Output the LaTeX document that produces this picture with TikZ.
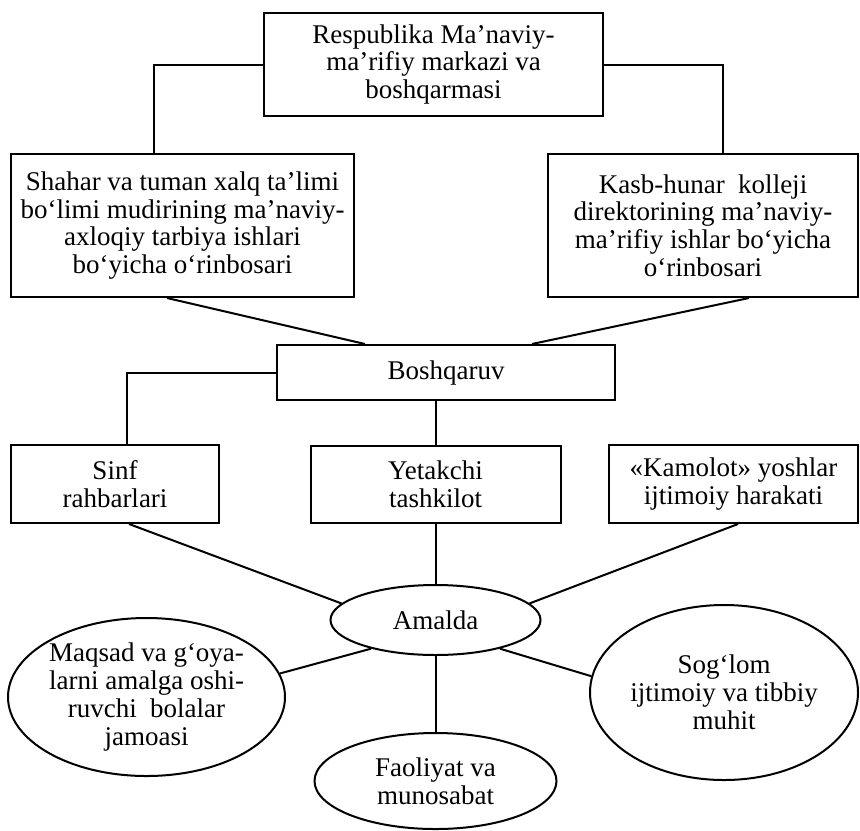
\documentclass[tikz,border=0pt]{standalone}
\usepackage{fontspec}
\setmainfont{Liberation Serif}
\usepackage{tikz}
\usetikzlibrary{shapes.geometric}

\begin{document}
\begin{tikzpicture}[x=0.5pt, y=-0.5pt,
    orgbox/.style={draw, line width=1pt, inner sep=0pt, align=center,
                   font=\fontsize{13.5}{13.9}\selectfont},
    oval/.style={orgbox, ellipse},
    link/.style={line width=1pt}]
  \useasboundingbox (0,0) rectangle (860,830);

  % boshqaruv tepasi
  \node[orgbox, minimum width=169.5pt, minimum height=51.5pt] (resp) at (433.5, 64.5)
    {Respublika Ma’naviy-\\ma’rifiy markazi va\\boshqarmasi};
  \node[orgbox, minimum width=171.5pt, minimum height=71.5pt] (shahar) at (182.5, 225.5)
    {Shahar va tuman xalq ta’limi\\bo‘limi mudirining ma’naviy-\\axloqiy tarbiya ishlari\\bo‘yicha o‘rinbosari};
  \node[orgbox, minimum width=155pt, minimum height=71.5pt] (kasb) at (703, 225.5)
    {Kasb-hunar\ \ kolleji\\direktorining ma’naviy-\\ma’rifiy ishlar bo‘yicha\\o‘rinbosari};
  \node[orgbox, minimum width=169pt, minimum height=27.5pt] (bosh) at (446, 372.5) {Boshqaruv};

  % ijrochilar
  \node[orgbox, minimum width=104pt, minimum height=39pt] (sinf) at (115, 484) {Sinf\\rahbarlari};
  \node[orgbox, minimum width=125pt, minimum height=38.5pt] (yetak) at (435.5, 484.5) {Yetakchi\\tashkilot};
  \node[orgbox, minimum width=124.5pt, minimum height=39pt] (kamol) at (733.5, 484)
    {«Kamolot»\ yoshlar\\ijtimoiy\ harakati};

  % amalda
  \node[oval, minimum width=105pt, minimum height=35pt] (amalda) at (435.5, 620) {Amalda};
  \node[oval, minimum width=138.5pt, minimum height=79pt] (maqsad) at (146.5, 697)
    {Maqsad va g‘oya-\\larni amalga oshi-\\ruvchi\ \ bolalar\\jamoasi};
  \node[oval, minimum width=134pt, minimum height=87.5pt] (soglom) at (724, 692.5)
    {Sog‘lom\\ijtimoiy va tibbiy\\muhit};
  \node[oval, minimum width=121pt, minimum height=48pt] (faol) at (435.5, 781)
    {Faoliyat va\\munosabat};

  \draw[link] (resp.west) -| ([xshift=-14.25pt]shahar.north);
  \draw[link] (resp.east) -| ([xshift=10pt]kasb.north);
  \draw[link] ([xshift=-7.75pt]shahar.south) -- ([xshift=-40.5pt]bosh.north);
  \draw[link] ([xshift=23pt]kasb.south) -- ([xshift=43pt]bosh.north);
  \draw[link] (bosh.west) -| ([xshift=6pt]sinf.north);
  \draw[link] (yetak.north) -- (yetak.north |- bosh.south);

  \draw[link] ([xshift=7pt]sinf.south) -- (amalda.170);
  \draw[link] (yetak.south) -- (amalda.north);
  \draw[link] ([xshift=2.25pt]kamol.south) -- (amalda.10);
  \draw[link] (amalda.204) -- (maqsad.10);
  \draw[link] (amalda.336) -- (soglom.173);
  \draw[link] (amalda.south) -- (faol.north);
\end{tikzpicture}
\end{document}
